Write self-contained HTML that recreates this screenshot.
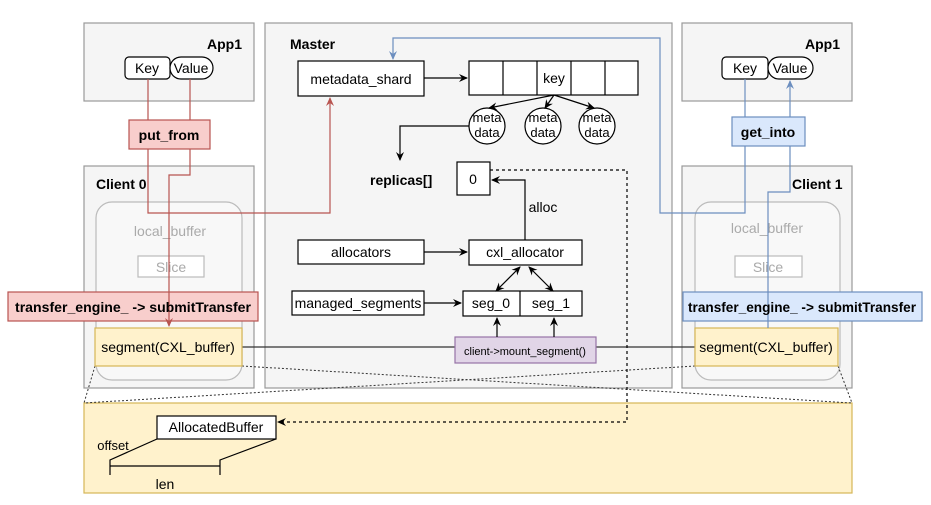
<!DOCTYPE html>
<html><head><meta charset="utf-8"><style>
html,body{margin:0;padding:0;background:#fff;}
svg{display:block;font-family:"Liberation Sans","Noto Sans CJK SC",sans-serif;}
</style></head><body>
<svg width="931" height="505" viewBox="0 0 931 505" xmlns="http://www.w3.org/2000/svg">
<defs>
<marker id="ak" markerWidth="10" markerHeight="10" refX="8" refY="5" orient="auto" markerUnits="userSpaceOnUse"><path d="M0,1 L9,5 L0,9 L3,5 z" fill="#000"/></marker>
<marker id="ar" markerWidth="10" markerHeight="10" refX="8" refY="5" orient="auto" markerUnits="userSpaceOnUse"><path d="M0,1 L9,5 L0,9 L3,5 z" fill="#b85450"/></marker>
<marker id="ab" markerWidth="10" markerHeight="10" refX="8" refY="5" orient="auto" markerUnits="userSpaceOnUse"><path d="M0,1 L9,5 L0,9 L3,5 z" fill="#6c8ebf"/></marker>
<marker id="aks" markerWidth="10" markerHeight="10" refX="2" refY="5" orient="auto" markerUnits="userSpaceOnUse"><path d="M10,1 L1,5 L10,9 L7,5 z" fill="#000"/></marker>
</defs>
<g stroke="#999" fill="#f5f5f5" stroke-width="1.2">
<rect x="84" y="23" width="170" height="78"/>
<rect x="84" y="166" width="170" height="222"/>
<rect x="265" y="23" width="407" height="365"/>
<rect x="682" y="23" width="170" height="78"/>
<rect x="682" y="166" width="170" height="222"/>
</g>
<g stroke="#bbb" fill="#f8f8f8" stroke-width="1.2">
<rect x="96" y="202" width="146" height="178" rx="16"/>
<rect x="695" y="202" width="145" height="178" rx="16"/>
<rect x="138" y="256" width="66" height="21" fill="#fff"/>
<rect x="735" y="256" width="67" height="21" fill="#fff"/>
</g>
<g font-size="14" fill="#aaa" text-anchor="middle">
<text x="170" y="236">local_buffer</text><text x="767" y="233">local_buffer</text>
<text x="171" y="272">Slice</text><text x="768" y="272">Slice</text>
</g>
<g font-size="14" font-weight="bold" fill="#000">
<text x="207" y="49">App1</text><text x="805" y="49">App1</text>
<text x="96" y="189">Client 0</text><text x="792" y="189">Client 1</text>
<text x="290" y="49">Master</text>
<text x="370" y="185">replicas[]</text>
<text x="812" y="453">CXL</text>
</g>
<rect x="84" y="403" width="768" height="90" fill="#fff2cc" stroke="#d6b656" stroke-width="1.2"/>
<g stroke="#333" stroke-dasharray="2,2" stroke-width="1" fill="none">
<line x1="95" y1="366" x2="84" y2="403"/><line x1="242" y1="366" x2="852" y2="403"/>
<line x1="695" y1="366" x2="84" y2="403"/><line x1="838" y1="366" x2="852" y2="403"/>
</g>
<g stroke="#333" stroke-width="1.3"><line x1="242" y1="347" x2="455" y2="347"/><line x1="596" y1="347" x2="695" y2="347"/></g>
<g stroke="#000" fill="#fff" stroke-width="1.2">
<rect x="298" y="61" width="126" height="35"/>
<rect x="469" y="61" width="169" height="34"/>
<line x1="503" y1="61" x2="503" y2="95"/><line x1="537" y1="61" x2="537" y2="95"/><line x1="571" y1="61" x2="571" y2="95"/><line x1="605" y1="61" x2="605" y2="95"/>
<circle cx="487" cy="126" r="18"/><circle cx="543" cy="126" r="18"/><circle cx="597" cy="126" r="18"/>
<rect x="457" y="162" width="33" height="33"/>
<rect x="298" y="240" width="126" height="24"/>
<rect x="469" y="240" width="113" height="25"/>
<rect x="292" y="291" width="132" height="24"/>
<rect x="463" y="291" width="119" height="25"/><line x1="520" y1="291" x2="520" y2="316"/>
<rect x="157" y="416" width="119" height="23"/>
<rect x="125" y="57" width="45" height="22" rx="4"/><rect x="170" y="57" width="43" height="22" rx="11"/>
<rect x="722" y="57" width="46" height="22" rx="4"/><rect x="768" y="57" width="45" height="22" rx="11"/>
</g>
<rect x="455" y="337" width="141" height="26" fill="#e1d5e7" stroke="#9673a6" stroke-width="1.2"/>
<rect x="129" y="120" width="81" height="29" fill="#f8cecc" stroke="#b85450" stroke-width="1.2"/>
<rect x="8" y="292" width="250" height="29" fill="#f8cecc" stroke="#b85450" stroke-width="1.2"/>
<rect x="732" y="117" width="73" height="29" fill="#dae8fc" stroke="#6c8ebf" stroke-width="1.2"/>
<rect x="683" y="292" width="239" height="29" fill="#dae8fc" stroke="#6c8ebf" stroke-width="1.2"/>
<rect x="95" y="328" width="147" height="38" fill="#fff2cc" stroke="#d6b656" stroke-width="1.2"/>
<rect x="695" y="328" width="143" height="38" fill="#fff2cc" stroke="#d6b656" stroke-width="1.2"/>
<g stroke="#000" stroke-width="1.2" fill="none">
<line x1="424" y1="78" x2="467" y2="78" marker-end="url(#ak)"/>
<line x1="554" y1="95" x2="489" y2="108" marker-end="url(#ak)"/>
<line x1="554" y1="95" x2="545" y2="108" marker-end="url(#ak)"/>
<line x1="554" y1="95" x2="594" y2="108" marker-end="url(#ak)"/>
<path d="M469,126 H400 V160" marker-end="url(#ak)"/>
<path d="M525,240 V180 H492" marker-end="url(#ak)"/>
<line x1="424" y1="252" x2="467" y2="252" marker-end="url(#ak)"/>
<line x1="424" y1="303" x2="461" y2="303" marker-end="url(#ak)"/>
<line x1="496" y1="291" x2="520" y2="267" marker-end="url(#ak)" marker-start="url(#aks)"/>
<line x1="553" y1="291" x2="529" y2="267" marker-end="url(#ak)" marker-start="url(#aks)"/>
<line x1="497" y1="337" x2="497" y2="318" marker-end="url(#ak)"/>
<line x1="554" y1="337" x2="554" y2="318" marker-end="url(#ak)"/>
<path d="M490,170 H627 V422 H278" stroke-dasharray="3,3" marker-end="url(#ak)"/>
<path d="M157,439 L110,460 V475 M276,439 L220,460 V475 M110,466 H220"/>
</g>
<g stroke="#b85450" stroke-width="1.2" fill="none">
<path d="M148,79 V120 M190,79 V120"/>
<path d="M148,149 V213 H330 V98" marker-end="url(#ar)"/>
<path d="M190,149 V175 H169 V326" marker-end="url(#ar)"/>
</g>
<g stroke="#6c8ebf" stroke-width="1.2" fill="none">
<path d="M745,79 V117"/>
<path d="M790,117 V81" marker-end="url(#ab)"/>
<path d="M745,146 V213 H660 V38 H393 V59" marker-end="url(#ab)"/>
<path d="M790,146 V192 H768 V328"/>
</g>
<g font-size="14" fill="#000" text-anchor="middle">
<text x="147" y="73">Key</text><text x="191" y="73">Value</text>
<text x="745" y="73">Key</text><text x="790" y="73">Value</text>
<text x="361" y="84">metadata_shard</text>
<text x="554" y="83">key</text>
<text x="473" y="184">0</text>
<text x="361" y="257">allocators</text>
<text x="525" y="257">cxl_allocator</text>
<text x="358" y="308">managed_segments</text>
<text x="491" y="308">seg_0</text><text x="551" y="308">seg_1</text>
<text x="168" y="352">segment(CXL_buffer)</text>
<text x="766" y="352">segment(CXL_buffer)</text>
<text x="216" y="432">AllocatedBuffer</text>
<text x="165" y="489">len</text>
<text x="543" y="212">alloc</text>
</g>
<g font-size="13" fill="#000" text-anchor="middle">
<text x="487" y="122">meta</text><text x="487" y="137">data</text>
<text x="543" y="122">meta</text><text x="543" y="137">data</text>
<text x="597" y="122">meta</text><text x="597" y="137">data</text>
<text x="113" y="450">offset</text>
</g>
<text x="525" y="355" font-size="11" text-anchor="middle" fill="#000">client-&gt;mount_segment()</text>
<g font-size="14" font-weight="bold" fill="#000">
<text x="169" y="140" text-anchor="middle">put_from</text>
<text x="768" y="137" text-anchor="middle">get_into</text>
<text x="15" y="312" textLength="236" lengthAdjust="spacingAndGlyphs">transfer_engine_ -&gt; submitTransfer</text>
<text x="688" y="312" textLength="228" lengthAdjust="spacingAndGlyphs">transfer_engine_ -&gt; submitTransfer</text>
</g>
</svg>
</body></html>
